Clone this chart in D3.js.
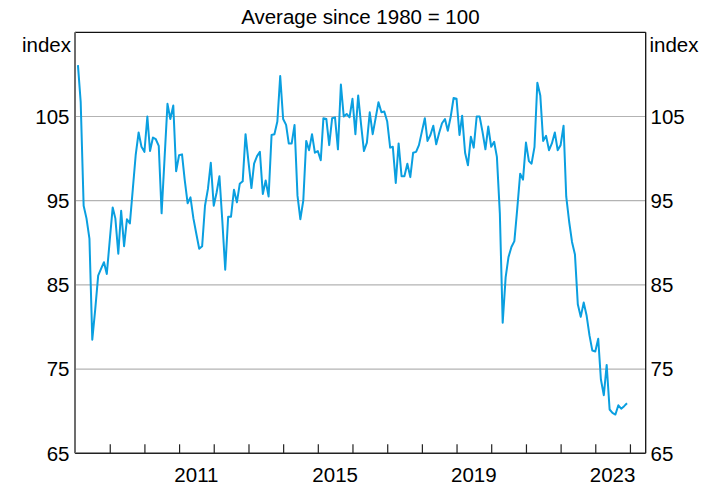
<!DOCTYPE html>
<html>
<head>
<meta charset="utf-8">
<script src="https://cdn.jsdelivr.net/npm/d3@7"></script>
<style>
  html, body { margin: 0; padding: 0; background: #fff; }
  svg { display: block; font-family: "Liberation Sans", Arial, sans-serif; }
</style>
</head>
<body>
<svg id="chart" width="717" height="486"></svg>
<script>
// ---- data ----
const title = "Average since 1980 = 100";
const unitLabel = "index";
const startYear = 2008, startMonth = 1; // Feb 2008 (0-based month)
const values = [
  111.1,106.7,94.4,92.9,90.5,78.5,82.1,86.1,86.9,87.7,86.3,
  90.3,94.2,92.9,88.7,93.8,89.6,92.8,92.3,96.4,100.4,103.1,101.4,
  100.8,105.0,100.9,102.5,102.3,101.5,93.5,100.0,106.5,104.7,106.3,98.5,
  100.4,100.5,97.5,94.7,95.4,92.9,91.1,89.3,89.6,94.4,96.4,99.5,
  94.4,96.0,97.9,92.5,86.8,93.1,93.1,96.3,94.8,97.0,97.3,102.9,
  99.6,96.5,99.4,100.3,100.8,95.8,97.4,95.5,102.8,102.9,104.4,109.8,
  104.7,104.0,101.8,101.8,104.0,95.6,92.8,95.0,102.1,101.0,102.9,100.7,
  100.9,99.8,104.8,104.7,101.6,104.8,104.9,101.1,108.8,105.0,105.3,104.9,
  107.1,102.9,107.5,104.0,100.9,101.9,105.5,102.9,104.8,106.7,105.5,105.6,
  104.4,101.3,101.4,97.1,101.8,97.9,97.9,99.4,97.8,100.7,100.8,101.6,
  103.2,104.8,102.1,102.8,103.9,101.7,103.0,104.2,104.7,103.3,105.0,107.2,
  107.1,102.8,105.1,100.7,99.2,102.6,101.3,105.0,105.0,103.2,101.1,103.8,
  101.4,102.0,100.2,93.5,80.5,85.9,88.3,89.5,90.2,94.0,98.2,97.5,
  101.9,99.7,99.4,101.4,109.0,107.5,102.1,102.7,101.0,101.8,103.1,101.0,
  101.6,103.9,95.5,92.5,90.1,88.6,82.7,81.2,82.9,81.4,79.0,77.2,
  77.1,78.6,73.8,71.9,75.5,70.2,69.8,69.6,70.7,70.3,70.6,70.95
];
const yTicks = [65, 75, 85, 95, 105];
const xTickYears = [2009,2010,2011,2012,2013,2014,2015,2016,2017,2018,2019,2020,2021,2022,2023,2024];
const xLabelYears = [2011, 2015, 2019, 2023];

const series = values.map((v, k) => ({ date: new Date(startYear, startMonth + k, 1), value: v }));

// ---- layout ----
const W = 717, H = 486;
const L = 75, R = 645.7, T = 32.3, B = 453.3;
const FS = 20.5;

const svg = d3.select("#chart");
const x = d3.scaleTime().domain([new Date(2008, 0, 1), new Date(2024, 5, 15)]).range([L, R]);
const y = d3.scaleLinear().domain([65, 115]).range([B, T]);

// gridlines
svg.append("g").selectAll("line").data(yTicks.filter(t => t > 65)).join("line")
  .attr("x1", L).attr("x2", R)
  .attr("y1", d => y(d)).attr("y2", d => y(d))
  .attr("stroke", "#b3b3b3").attr("stroke-width", 1.2);

// x ticks (inward)
const xAxis = d3.axisBottom(x)
  .tickValues(xTickYears.map(yr => new Date(yr, 0, 1)))
  .tickSize(-9).tickFormat("");
const gx = svg.append("g").attr("transform", `translate(0,${B})`).call(xAxis);
gx.select(".domain").remove();
gx.selectAll(".tick line").attr("stroke", "#222").attr("stroke-width", 1.2);

// x labels centered within year
svg.append("g").selectAll("text").data(xLabelYears).join("text")
  .attr("x", d => (x(new Date(d, 0, 1)) + x(new Date(d + 1, 0, 1))) / 2)
  .attr("y", 482)
  .attr("text-anchor", "middle")
  .attr("font-size", FS)
  .attr("fill", "#000")
  .text(d => d);

// y labels left & right
const yl = svg.append("g");
yl.selectAll("text.l").data(yTicks).join("text").attr("class", "l")
  .attr("x", 69.5).attr("y", d => y(d)).attr("dy", "0.36em")
  .attr("text-anchor", "end").attr("font-size", FS).text(d => d);
yl.selectAll("text.r").data(yTicks).join("text").attr("class", "r")
  .attr("x", 650.5).attr("y", d => y(d)).attr("dy", "0.36em")
  .attr("text-anchor", "start").attr("font-size", FS).text(d => d);

svg.append("text").attr("x", 71).attr("y", 52).attr("text-anchor", "end")
  .attr("font-size", FS).text(unitLabel);
svg.append("text").attr("x", 649.5).attr("y", 52).attr("text-anchor", "start")
  .attr("font-size", FS).text(unitLabel);

// title
svg.append("text").attr("x", (L + R) / 2).attr("y", 24).attr("text-anchor", "middle")
  .attr("font-size", FS).text(title);

// line
const line = d3.line().x(d => x(d.date)).y(d => y(d.value));
svg.append("path").datum(series)
  .attr("d", line).attr("fill", "none")
  .attr("stroke", "#0a9fe0").attr("stroke-width", 2)
  .attr("stroke-linejoin", "round");

// frame
svg.append("line").attr("x1", L).attr("x2", R).attr("y1", T).attr("y2", T).attr("stroke", "#111").attr("stroke-width", 1.3);
svg.append("line").attr("x1", R).attr("x2", R).attr("y1", T).attr("y2", B).attr("stroke", "#111").attr("stroke-width", 1.3);
svg.append("line").attr("x1", L).attr("x2", R).attr("y1", B).attr("y2", B).attr("stroke", "#222").attr("stroke-width", 1.5);
svg.append("line").attr("x1", L).attr("x2", L).attr("y1", T).attr("y2", B).attr("stroke", "#6d6d6d").attr("stroke-width", 2);
</script>
</body>
</html>
